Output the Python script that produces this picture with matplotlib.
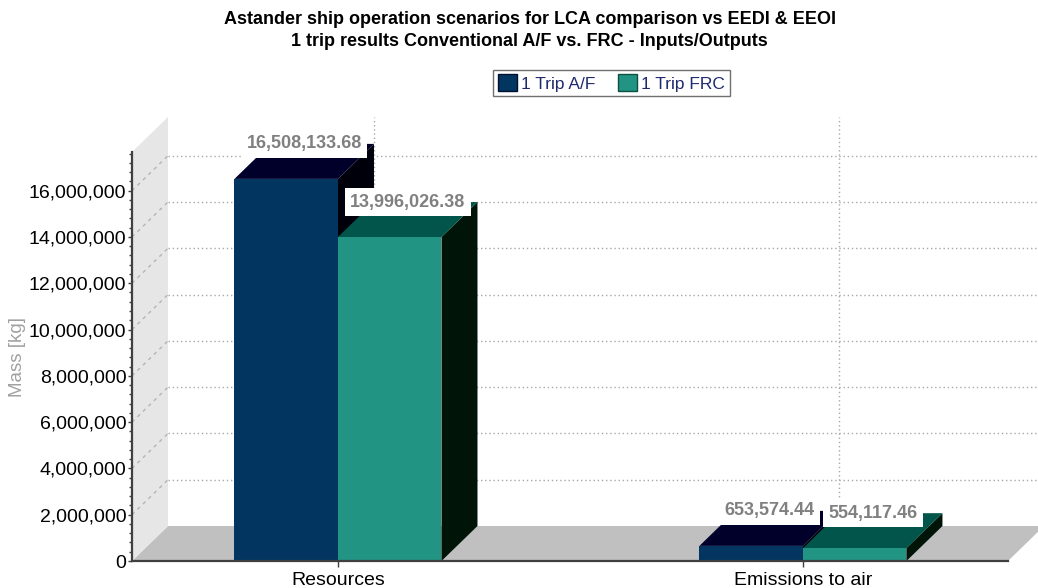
import matplotlib
matplotlib.use('Agg')
import matplotlib.pyplot as plt
from matplotlib.patches import Polygon, Rectangle, Patch
from matplotlib.ticker import FuncFormatter, MultipleLocator, FixedLocator

plt.rcParams['font.family'] = ['Liberation Sans', 'DejaVu Sans']

# ---------------- data ----------------
categories = ['Resources', 'Emissions to air']
series_names = ['1 Trip A/F', '1 Trip FRC']
af_values = [16508133.68, 653574.44]
frc_values = [13996026.38, 554117.46]
y_ticks = [0, 2e6, 4e6, 6e6, 8e6, 10e6, 12e6, 14e6, 16e6]
title_lines = ['Astander ship operation scenarios for LCA comparison vs EEDI & EEOI',
               '1 trip results Conventional A/F vs. FRC - Inputs/Outputs']
y_label = 'Mass [kg]'

# colours: (front, top, side)
af_colors = ('#023661', '#00002a', '#00000a')
frc_colors = ('#229484', '#02554a', '#001408')

# ---------------- layout ----------------
W, H = 1038, 588
fig = plt.figure(figsize=(W / 100, H / 100), dpi=100)
L, R, B, T = 132, 1008, 561, 152
ax = fig.add_axes([L / W, 1 - B / H, (R - L) / W, (B - T) / H])
xlim = (-0.443, 1.441)
ylim = (0, 17.67e6)
ax.set_xlim(*xlim)
ax.set_ylim(*ylim)
ax.patch.set_visible(False)

ppx = (R - L) / (xlim[1] - xlim[0])
ppy = (B - T) / (ylim[1] - ylim[0])
DX, DY = 36, 35
ddx = DX / ppx
ddy = DY / ppy

# floor and left wall
floor = Polygon([(xlim[0], 0), (xlim[1], 0), (xlim[1] + ddx, ddy), (xlim[0] + ddx, ddy)],
                closed=True, fc='#c0c0c0', ec='none', clip_on=False, zorder=0.5)
ax.add_patch(floor)
wall = Polygon([(xlim[0], 0), (xlim[0] + ddx, ddy), (xlim[0] + ddx, ylim[1] + ddy), (xlim[0], ylim[1])],
               closed=True, fc='#e6e6e6', ec='none', clip_on=False, zorder=0.5)
ax.add_patch(wall)

grid_c = '#a8a8a8'
for v in y_ticks[1:]:
    ax.plot([xlim[0] + ddx, xlim[1] + ddx], [v + ddy, v + ddy], ls=(0, (1, 2)), color=grid_c,
            lw=1, clip_on=False, zorder=0.8)
    ax.plot([xlim[0], xlim[0] + ddx], [v, v + ddy], ls=(0, (2.5, 3)), color='#b4b4b4',
            lw=1, clip_on=False, zorder=0.8)
for i in range(len(categories)):
    ax.plot([i + ddx, i + ddx], [ddy, ylim[1] + ddy], ls=(0, (1, 2)), color=grid_c,
            lw=1, clip_on=False, zorder=0.8)

# bars
w = 0.2226


def draw_bar(x0, v, cols):
    front, top, side = cols
    ax.add_patch(Polygon([(x0 + w, 0), (x0 + w + ddx, ddy), (x0 + w + ddx, v + ddy), (x0 + w, v)],
                         closed=True, fc=side, ec='none', clip_on=False, zorder=2))
    ax.add_patch(Polygon([(x0, v), (x0 + w, v), (x0 + w + ddx, v + ddy), (x0 + ddx, v + ddy)],
                         closed=True, fc=top, ec='none', clip_on=False, zorder=2))
    ax.add_patch(Rectangle((x0, 0), w, v, fc=front, ec='none', clip_on=False, zorder=2))


for i in range(len(categories)):
    draw_bar(i - w, af_values[i], af_colors)
    draw_bar(i, frc_values[i], frc_colors)

for i in range(len(categories)):
    for x0, v in ((i - w, af_values[i]), (i, frc_values[i])):
        ax.text(x0 + w / 2 + ddx / 2, v + ddy, f'{v:,.2f}', ha='center', va='center',
                fontsize=13, fontweight='bold', color='#808080', zorder=10, clip_on=False,
                bbox=dict(boxstyle='square,pad=0.3', fc='white', ec='none'))

# axes styling
for s in ('top', 'right'):
    ax.spines[s].set_visible(False)
for s in ('left', 'bottom'):
    ax.spines[s].set_color('#404040')
    ax.spines[s].set_linewidth(1.6)
    ax.spines[s].set_zorder(5)

ax.yaxis.set_major_locator(FixedLocator(y_ticks))
ax.yaxis.set_minor_locator(MultipleLocator(400000))
ax.yaxis.set_major_formatter(FuncFormatter(lambda v, p: f'{int(round(v)):,}'))
ax.tick_params(axis='y', which='major', length=3, width=1, color='#404040', labelsize=14, pad=1)
ax.tick_params(axis='y', which='minor', length=2.5, width=1, color='#404040')
ax.set_xticks(range(len(categories)))
ax.set_xticklabels(categories)
ax.tick_params(axis='x', length=4, width=1, color='#404040', labelsize=14, pad=4)

# legend
handles = [Patch(fc=af_colors[0], ec='#001030'), Patch(fc=frc_colors[0], ec='#105040')]
leg = fig.legend(handles, series_names, loc='center', bbox_to_anchor=(611.5 / W, 1 - 83 / H),
                 ncol=2, frameon=True, fancybox=False, edgecolor='#707070', fontsize=12.5,
                 handlelength=1.1, handleheight=1.1, handletextpad=0.25, columnspacing=1.3,
                 borderpad=0.25, borderaxespad=0, labelcolor='#1f2a6e', framealpha=1)
leg.get_frame().set_linewidth(1)

# titles
fig.text(529.5 / W, 1 - 20 / H, title_lines[0], ha='center', va='center', fontsize=13,
         fontweight='bold')
fig.text(529.5 / W, 1 - 42 / H, title_lines[1], ha='center', va='center', fontsize=13,
         fontweight='bold')
fig.text(18 / W, 1 - 357 / H, y_label, rotation=90, ha='center', va='center', fontsize=13.5,
         color='#a0a0a0')

fig.savefig('out.png', dpi=100)
